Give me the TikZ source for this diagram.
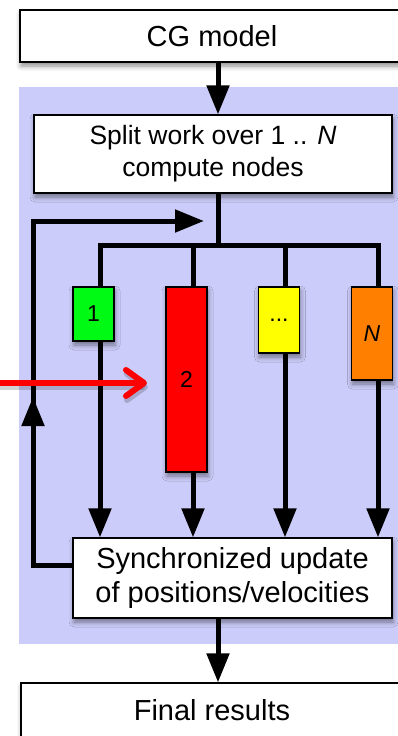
\documentclass[tikz,border=0pt]{standalone}
\usepackage{fontspec}
\setmainfont{Liberation Sans}
\usetikzlibrary{arrows.meta,shadows.blur}
\definecolor{lav}{RGB}{204,204,250}
\definecolor{cgreen}{RGB}{0,250,20}
\definecolor{cred}{RGB}{255,0,0}
\definecolor{cyellow}{RGB}{255,255,0}
\definecolor{corange}{RGB}{255,128,0}
\pgfdeclarelayer{bg}
\pgfsetlayers{bg,main}
\tikzset{
  box/.style={draw=black, line width=1.2pt, fill=white, inner sep=0pt, align=center,
    blur shadow={shadow xshift=1pt, shadow yshift=-4pt, shadow blur radius=5pt, shadow opacity=45}},
  bigtext/.style={font=\fontsize{29}{34}\selectfont},
  midtext/.style={font=\fontsize{26.5}{32}\selectfont},
  colbox/.style={box, font=\fontsize{23}{27}\selectfont, minimum width=41pt},
  conn/.style={line width=5pt, draw=black},
  tri/.tip={Triangle[length=29pt,width=22pt]},
  redarrow/.style={line width=6pt, draw=cred, line cap=round,
    -{Straight Barb[length=18pt,width=26pt,line cap=round,line join=round]}}
}
\begin{document}
\begin{tikzpicture}[x=1pt,y=-1pt]
\useasboundingbox (0,0) rectangle (397,736);
% boxes
\node[box,bigtext,minimum width=384pt,minimum height=52pt] (cg) at (212,36) {CG model};
\node[box,midtext,minimum width=358pt,minimum height=78pt] (split) at (213,154)
  {Split work over 1 .. \textit{N}\\compute nodes};
\node[colbox,fill=cgreen,minimum height=54pt] (c1) at (93.5,314) {1};
\node[colbox,fill=cred,minimum height=185pt] (c2) at (186.5,379.5) {2};
\node[colbox,fill=cyellow,minimum height=66pt] (c3) at (279,320) {...};
\node[colbox,fill=corange,minimum height=93pt] (cN) at (372,333.5) {\textit{N}};
\node[box,bigtext,minimum width=319pt,minimum height=80pt] (sync) at (232.5,578)
  {Synchronized update\\of positions/velocities};
\node[box,bigtext,minimum width=382pt,minimum height=54pt] (final) at (212,710) {Final results};
% coordinates
\coordinate (busc) at (218,245);
\coordinate (b1) at (100,245);
\coordinate (b2) at (193,245);
\coordinate (b3) at (285,245);
\coordinate (bN) at (378,245);
\coordinate (lpA) at (33,565);
\coordinate (lpUp) at (33,397);
\coordinate (lpB) at (33,221);
\coordinate (lpC) at (204,221);
\coordinate (redS) at (-5,383);
\coordinate (redE) at (147,383);
\begin{pgfonlayer}{bg}
\fill[lav] (19,87) rectangle (400,644);
\draw[conn,-{tri}] (cg.south -| busc) -- (split.north -| busc);
\draw[conn] (split.south -| busc) -- (busc);
\draw[conn,line cap=rect] (b1) -- (bN);
\draw[conn,-{tri}] (b1) -- (b1 |- sync.north);
\draw[conn,-{tri}] (b2) -- (b2 |- sync.north);
\draw[conn,-{tri}] (b3) -- (b3 |- sync.north);
\draw[conn,-{tri}] (bN) -- (bN |- sync.north);
\draw[conn,line join=miter,-{tri}] (sync.west |- lpA) -- (lpA) -- (lpB) -- (lpC);
\draw[conn,-{tri}] (lpA) -- (lpUp);
\draw[conn,-{tri}] (sync.south -| busc) -- (final.north -| busc);
\end{pgfonlayer}
% red arrow with soft shadow
\draw[redarrow,draw=black,opacity=0.18,transform canvas={shift={(1pt,-4pt)}}] (redS) -- (redE);
\draw[redarrow] (redS) -- (redE);
\end{tikzpicture}
\end{document}
